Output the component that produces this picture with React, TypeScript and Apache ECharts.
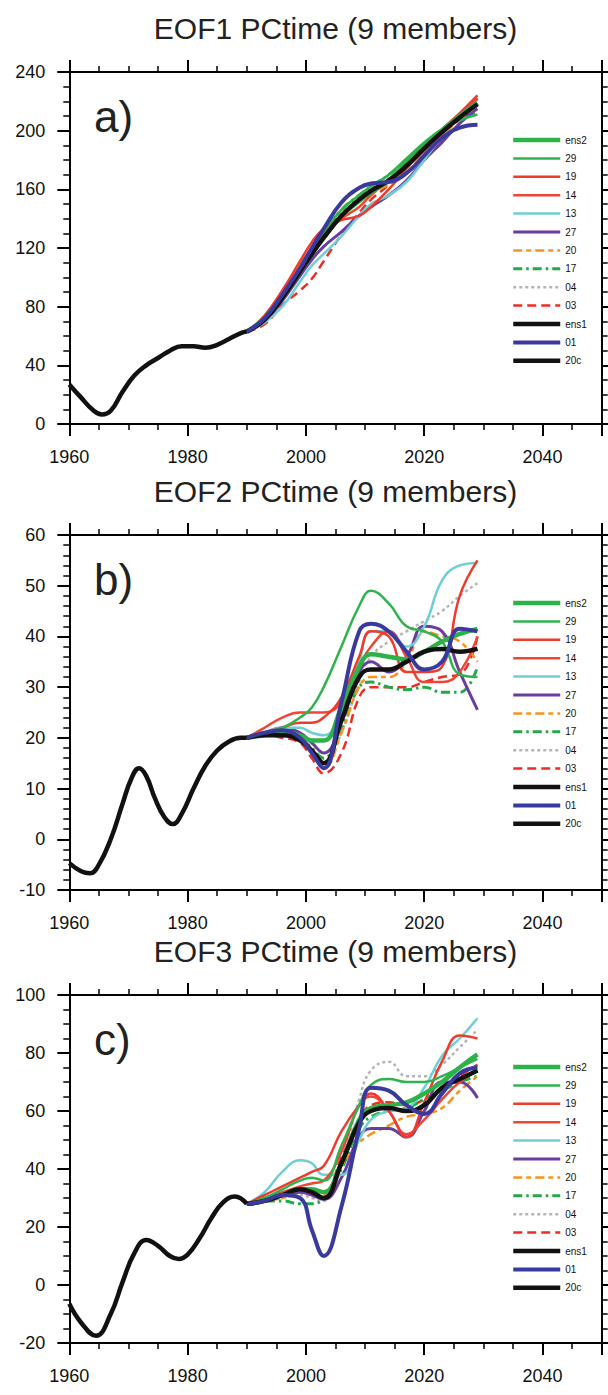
import React, { useEffect, useRef } from "react";
import * as echarts from "echarts";

// ---------------- data ----------------
const MEMBER_YEARS = [1990, 1993, 1996, 1999, 2001, 2003, 2006, 2009, 2011, 2014, 2017, 2020, 2023, 2026, 2029];
const SERIES_NAMES = ["ens2", "29", "19", "14", "13", "27", "20", "17", "04", "03", "ens1", "01", "20c"];
const TITLES = ["EOF1 PCtime (9 members)", "EOF2 PCtime (9 members)", "EOF3 PCtime (9 members)"];
const PANEL_LABELS = ["a)", "b)", "c)"];
const X_TICKS = [1960, 1980, 2000, 2020, 2040];

// Panel a (EOF1)
const A_20C_YEARS = [1960, 1962, 1964, 1965.5, 1967, 1969, 1971, 1973, 1975, 1977, 1979, 1981, 1983, 1985, 1987, 1989, 1990];
const A_20C = [27, 18, 9.5, 6.5, 9, 22, 33, 40, 45, 50, 53, 53, 52, 54, 58, 62, 63];
const A_ENS2 = [63, 72, 86, 104, 116, 127, 142, 152, 158, 166, 178, 190, 200, 210, 219];
const A_29 = [63, 73, 88, 107, 120, 131, 146, 156, 162, 170, 181, 192, 201, 207, 211];
const A_19 = [63, 74, 91, 111, 124, 133, 139, 142, 148, 160, 174, 189, 201, 212, 224];
const A_14 = [63, 73, 89, 108, 120, 129, 140, 148, 156, 166, 175, 186, 198, 210, 222];
const A_13 = [63, 69, 80, 97, 108, 116, 128, 142, 150, 156, 165, 180, 196, 210, 221];
const A_27 = [63, 70, 84, 101, 112, 121, 131, 142, 148, 156, 166, 180, 192, 205, 215];
const A_20 = [63, 71, 85, 103, 115, 126, 141, 152, 158, 163, 172, 184, 196, 208, 218];
const A_17 = [63, 72, 87, 106, 118, 130, 146, 156, 162, 170, 180, 191, 201, 208, 213];
const A_04 = [63, 71, 86, 104, 117, 128, 143, 154, 160, 168, 178, 189, 199, 209, 220];
const A_03 = [63, 68, 81, 91, 99, 111, 129, 144, 153, 163, 175, 188, 199, 210, 222];
const A_ENS1 = [63, 71, 86, 104, 116, 127, 142, 153, 159, 166, 176, 188, 199, 209, 218];
const A_01 = [63, 72, 88, 106, 120, 133, 151, 161, 164, 165, 171, 183, 195, 202, 204];

// Panel b (EOF2)
const B_20C_YEARS = [1960, 1962, 1963.5, 1965, 1967, 1969, 1970.5, 1971.8, 1973, 1974.5, 1976, 1977.5, 1979, 1981, 1983, 1985, 1987, 1989, 1990];
const B_20C = [-4.7, -6.3, -6.7, -5, 0, 7, 12, 14, 12.5, 8, 4.5, 3, 5, 10, 14.5, 17.5, 19.3, 20, 20];
const B_ENS2 = [20, 20.5, 21, 20.5, 19.5, 19.5, 26, 34, 36.5, 36, 35.5, 37, 39, 40.5, 41.5];
const B_29 = [20, 21, 22, 24, 26, 30, 38, 46, 49, 46.5, 42, 41, 39, 32.5, 32];
const B_19 = [20, 21, 22, 23, 23, 24, 28, 36, 41, 40, 33, 33, 34, 48, 55];
const B_14 = [20, 22, 24, 25, 25, 25, 27, 34, 38, 41, 36, 31, 31, 33, 40];
const B_13 = [20, 21, 22, 22, 21, 20.5, 25, 35, 41, 41, 38, 42, 51, 54, 54.5];
const B_27 = [20, 21, 22, 21, 19, 17, 23, 33, 35, 33, 36, 42, 41, 33, 25.5];
const B_20 = [20, 21, 21, 20, 17, 14, 21, 30, 32, 32, 35, 41, 40, 39, 35];
const B_17 = [20, 21, 21, 20, 18, 16, 22, 30, 31, 30, 29.5, 30, 29, 29, 34];
const B_04 = [20, 21, 21, 20, 18, 15, 21, 31, 36, 39, 41, 43, 45, 48, 50.5];
const B_03 = [20, 20.5, 20, 19, 16, 13, 17, 28, 30, 30, 30, 31, 32, 32.5, 40];
const B_ENS1 = [20, 20.5, 20.5, 19.5, 17.5, 15, 23.5, 32, 33.5, 33.5, 35, 37, 37.5, 37, 37.6];
const B_01 = [20, 21, 21.5, 20, 17, 14, 27, 41, 42.5, 41, 37, 33.5, 35, 41.5, 41];

// Panel c (EOF3)
const C_20C_YEARS = [1960, 1962, 1964.5, 1967, 1969, 1971, 1973, 1975, 1977, 1978.5, 1980, 1982, 1984, 1986, 1988, 1990];
const C_20C = [-6.5, -13, -17.5, -10, 1, 11, 15.5, 13.5, 10, 9, 10.5, 16, 23, 28.5, 30.5, 28];
const C_ENS2 = [28, 29, 31, 33, 33, 32, 42, 57, 61, 62, 63, 66, 70, 75, 79.5];
const C_29 = [28, 30, 33, 36, 37, 36, 48, 62, 69, 71, 70, 70, 72, 75, 78];
const C_19 = [28, 31, 34, 37, 39, 41, 53, 62, 66, 60, 51, 63, 77, 86, 85];
const C_14 = [28, 30, 32, 34, 35, 36, 46, 62, 65, 60, 52, 57, 64, 70, 74];
const C_13 = [28, 32, 39, 43, 42, 38, 38, 50, 57, 60, 61, 68, 79, 85, 92];
const C_27 = [28, 29, 31, 32, 31, 29.5, 37, 51, 54, 54, 51, 60, 70, 70, 64.5];
const C_20 = [28, 29, 30, 32, 32, 31, 41, 49, 52, 55, 58, 59, 61, 67, 72];
const C_17 = [28, 29, 29, 28, 28, 30, 40, 54, 58, 60, 61, 64, 67, 70, 72];
const C_04 = [28, 29, 30, 31, 30, 29, 42, 64, 74, 77, 72, 72, 76, 82, 88];
const C_03 = [28, 29, 31, 33, 33, 32, 44, 57, 62, 63, 62, 64, 68, 72, 76];
const C_ENS1 = [28, 29, 31, 33, 32, 30, 42, 56, 60, 61, 60, 62, 68, 71, 74];
const C_01 = [28, 29, 31, 30, 19, 10, 27, 54, 68, 67, 62, 59, 66, 73, 75];

// Y axes
const Y_MIN = [0, -10, -20];
const Y_MAX = [240, 60, 100];
const Y_INTERVAL = [40, 10, 20];
const Y_MINOR = [4, 5, 4];

// ---------------- styles ----------------
const FONT = "'Liberation Sans', Arial, Helvetica, sans-serif";
const STYLE: Record<string, { color: string; width: number; dash?: number[] }> = {
  ens2: { color: "#2db24a", width: 4.5 },
  "29": { color: "#2fb34d", width: 2.5 },
  "19": { color: "#ef3b2c", width: 2.5 },
  "14": { color: "#ef4636", width: 2.5 },
  "13": { color: "#6fcfd2", width: 2.5 },
  "27": { color: "#6a3d9e", width: 3 },
  "20": { color: "#f7931e", width: 2.5, dash: [9, 4, 5, 4] },
  "17": { color: "#22a84a", width: 3, dash: [9, 4, 2.5, 4] },
  "04": { color: "#b5b5b5", width: 2.5, dash: [3, 3] },
  "03": { color: "#ee2d24", width: 2.5, dash: [9, 5] },
  ens1: { color: "#111111", width: 4.5 },
  "01": { color: "#3a3a9e", width: 4 },
  "20c": { color: "#111111", width: 4.5 },
};
const DRAW_ORDER = ["03", "04", "17", "20", "27", "13", "14", "19", "29", "ens2", "ens1", "01"];

const GRID_LEFT = 69.3;
const GRID_WIDTH = 532.4;
const GRID_TOPS = [72, 535, 995];
const GRID_HEIGHTS = [352, 355, 348];

const App: React.FC = () => {
  const ref = useRef<HTMLDivElement>(null);

  useEffect(() => {
    if (!ref.current) return;
    const chart = echarts.init(ref.current, undefined, { renderer: "svg" });

    const members: Record<string, number[]>[] = [
      { ens2: A_ENS2, "29": A_29, "19": A_19, "14": A_14, "13": A_13, "27": A_27, "20": A_20, "17": A_17, "04": A_04, "03": A_03, ens1: A_ENS1, "01": A_01 },
      { ens2: B_ENS2, "29": B_29, "19": B_19, "14": B_14, "13": B_13, "27": B_27, "20": B_20, "17": B_17, "04": B_04, "03": B_03, ens1: B_ENS1, "01": B_01 },
      { ens2: C_ENS2, "29": C_29, "19": C_19, "14": C_14, "13": C_13, "27": C_27, "20": C_20, "17": C_17, "04": C_04, "03": C_03, ens1: C_ENS1, "01": C_01 },
    ];
    const hist: [number[], number[]][] = [
      [A_20C_YEARS, A_20C],
      [B_20C_YEARS, B_20C],
      [C_20C_YEARS, C_20C],
    ];

    const axisLineStyle = { color: "#000", width: 2 };
    const grids: any[] = [];
    const xAxes: any[] = [];
    const yAxes: any[] = [];
    const series: any[] = [];
    const legends: any[] = [];
    const graphics: any[] = [];

    const mkSeries = (name: string, xs: number[], ys: number[], gi: number) => {
      const st = STYLE[name];
      return {
        name,
        type: "line",
        xAxisIndex: gi * 2,
        yAxisIndex: gi * 2,
        data: xs.map((x, i) => [x, ys[i]]),
        smooth: 0.45,
        showSymbol: false,
        symbol: "none",
        lineStyle: { color: st.color, width: st.width, type: st.dash ? st.dash : "solid", cap: "butt" },
        itemStyle: { color: st.color },
        emphasis: { disabled: true },
        silent: true,
      };
    };

    for (let gi = 0; gi < 3; gi++) {
      grids.push({ left: GRID_LEFT, top: GRID_TOPS[gi], width: GRID_WIDTH, height: GRID_HEIGHTS[gi], outerBoundsMode: "none", containLabel: false });
      const xBase = {
        type: "value",
        gridIndex: gi,
        min: 1960,
        max: 2050,
        interval: 20,
        splitLine: { show: false },
        axisLine: { show: true, onZero: false, lineStyle: axisLineStyle },
        axisTick: { show: true, length: 12, lineStyle: { color: "#000", width: 2 } },
        minorTick: { show: true, splitNumber: 4, length: 6, lineStyle: { color: "#000", width: 1.5 } },
      };
      xAxes.push({
        ...xBase,
        position: "bottom",
        axisLabel: {
          show: true,
          fontSize: 18,
          fontFamily: FONT,
          color: "#111",
          margin: 24,
          formatter: (v: number) => (X_TICKS.indexOf(v) >= 0 ? String(v) : ""),
        },
      });
      xAxes.push({ ...xBase, position: "top", axisLabel: { show: false } });
      const yBase = {
        type: "value",
        gridIndex: gi,
        min: Y_MIN[gi],
        max: Y_MAX[gi],
        interval: Y_INTERVAL[gi],
        splitLine: { show: false },
        axisLine: { show: true, onZero: false, lineStyle: axisLineStyle },
        axisTick: { show: true, length: 12, lineStyle: { color: "#000", width: 2 } },
        minorTick: { show: true, splitNumber: Y_MINOR[gi], length: 6, lineStyle: { color: "#000", width: 1.5 } },
      };
      yAxes.push({
        ...yBase,
        position: "left",
        axisLabel: { show: true, fontSize: 18, fontFamily: FONT, color: "#111", margin: 24 },
      });
      yAxes.push({ ...yBase, position: "right", axisLabel: { show: false } });

      DRAW_ORDER.forEach((n) => series.push(mkSeries(n, MEMBER_YEARS, members[gi][n], gi)));
      series.push(mkSeries("20c", hist[gi][0], hist[gi][1], gi));

      legends.push({
        orient: "vertical",
        left: 511,
        top: GRID_TOPS[gi] + (gi === 2 ? 67 : 63),
        padding: 0,
        itemWidth: 47,
        itemHeight: 10,
        itemGap: 8.4,
        selectedMode: false,
        data: SERIES_NAMES,
        textStyle: { fontSize: 10, lineHeight: 10, color: "#111", fontFamily: FONT },
        itemStyle: { opacity: 0 },
        lineStyle: { width: "inherit" },
      });

      graphics.push({
        type: "text",
        x: GRID_LEFT + GRID_WIDTH / 2,
        y: GRID_TOPS[gi] - 44,
        style: { text: TITLES[gi], font: `30px ${FONT}`, fill: "#222", align: "center", verticalAlign: "middle" },
      });
      graphics.push({
        type: "text",
        x: 94,
        y: GRID_TOPS[gi] + 44,
        style: { text: PANEL_LABELS[gi], font: `44px ${FONT}`, fill: "#222", align: "left", verticalAlign: "middle" },
      });
    }

    chart.setOption({
      animation: false,
      backgroundColor: "#ffffff",
      grid: grids,
      xAxis: xAxes,
      yAxis: yAxes,
      legend: legends,
      series,
      graphic: graphics,
    });

    return () => chart.dispose();
  }, []);

  return <div ref={ref} style={{ position: "absolute", left: 0, top: 0, width: 608, height: 1395 }} />;
};

export default App;
